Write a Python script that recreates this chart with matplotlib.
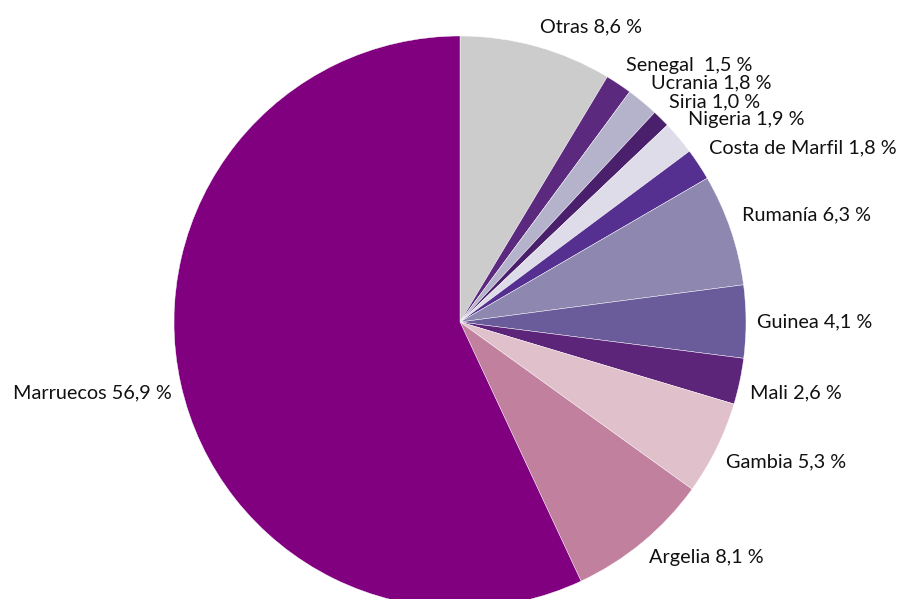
import matplotlib
matplotlib.use("Agg")
import matplotlib.pyplot as plt

# datos (porcentaje por nacionalidad)
paises = ["Otras", "Senegal", "Ucrania", "Siria", "Nigeria", "Costa de Marfil",
          "Rumanía", "Guinea", "Mali", "Gambia", "Argelia", "Marruecos"]
valores = [8.6, 1.5, 1.8, 1.0, 1.9, 1.8, 6.3, 4.1, 2.6, 5.3, 8.1, 56.9]
etiquetas = ["Otras 8,6 %", "Senegal  1,5 %", "Ucrania 1,8 %", "Siria 1,0 %",
             "Nigeria 1,9 %", "Costa de Marfil 1,8 %", "Rumanía 6,3 %",
             "Guinea 4,1 %", "Mali 2,6 %", "Gambia 5,3 %", "Argelia 8,1 %",
             "Marruecos 56,9 %"]

colores = ["#CCCCCC", "#5B2A7E", "#B5B2CB", "#4A1F6B", "#DEDCE8", "#553090",
           "#8E87AF", "#6A5C9A", "#5C257A", "#E0C1CB", "#C0809E", "#800080"]

# posicion de cada etiqueta en pixeles (borde izquierdo/derecho, centro vertical)
pos_etiquetas = [(540, 27, "left"), (626, 65, "left"), (651, 83, "left"),
                 (669, 102, "left"), (688, 120, "left"), (709, 148, "left"),
                 (742, 215, "left"), (757, 322, "left"), (750, 393, "left"),
                 (726, 462, "left"), (649, 557, "left"), (172, 393, "right")]

W, H = 900, 599
cx, cy, R = 460, 322, 286

fig = plt.figure(figsize=(W / 100, H / 100), dpi=100)
ax = fig.add_axes([0, 0, 1, 1])
ax.pie(valores, colors=colores, startangle=90, counterclock=False, radius=1,
       wedgeprops=dict(edgecolor="white", linewidth=0.3))
ax.set_xlim(-cx / R, (W - cx) / R)
ax.set_ylim(-(H - cy) / R, cy / R)
ax.set_aspect("equal")
ax.axis("off")

for texto, (px, py, ha) in zip(etiquetas, pos_etiquetas):
    fig.text(px / W, 1 - py / H, texto, ha=ha, va="center",
             fontsize=14.3, family=["Lato", "DejaVu Sans"], color="#111111")

fig.savefig("out.png", dpi=100, facecolor="white")
